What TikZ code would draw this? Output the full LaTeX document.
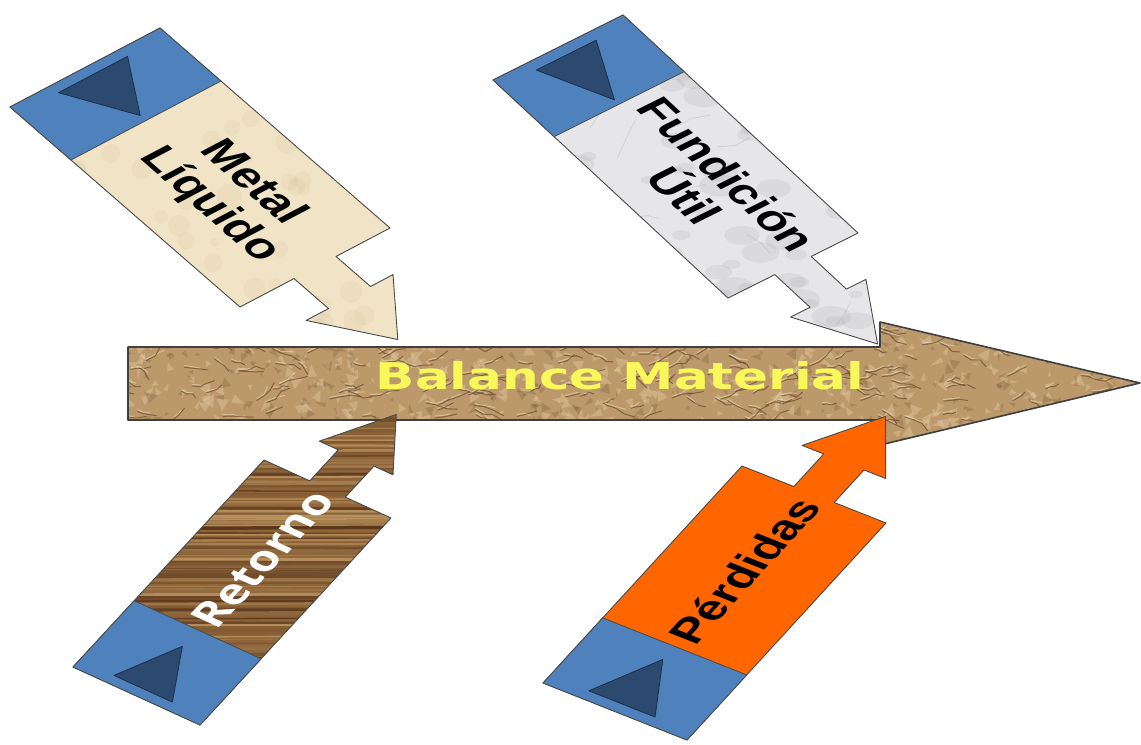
\documentclass[tikz,border=0pt]{standalone}
\usepackage{fontspec}
\setmainfont{Liberation Sans}
\newfontfamily\labelfont{Liberation Sans}
\newfontfamily\retfont{Open Sans}
\newfontfamily\titlefont{DejaVu Sans}

\definecolor{capblue}{HTML}{4F81BD}
\definecolor{capnavy}{HTML}{2C4A70}
\definecolor{navyedge}{HTML}{1C2F48}
\definecolor{edgegray}{HTML}{4A4A4A}
\definecolor{parchment}{HTML}{F0E3C6}
\definecolor{parchspot}{HTML}{D8C39A}
\definecolor{marble}{HTML}{E6E6E8}
\definecolor{marblevein}{HTML}{A8A8AE}
\definecolor{woodbase}{HTML}{8E6438}
\definecolor{wooddark}{HTML}{5A361A}
\definecolor{woodlight}{HTML}{B8905C}
\definecolor{lossorange}{HTML}{FF6600}
\definecolor{paperbase}{HTML}{BC996B}
\definecolor{creasedark}{HTML}{5A3C20}
\definecolor{paperhi}{HTML}{EBD8B2}
\definecolor{titleyellow}{HTML}{F8F85A}

% outline of a side arrow in its own frame: length along x, width along y
\def\sideshape{(0,0) -- (1,0) -- (1,0.36) -- (1.15,0.36) -- (1.15,0.21) -- (1.36,0.5) -- (1.15,0.79) -- (1.15,0.64) -- (1,0.64) -- (1,1) -- (0,1) -- cycle}
% main horizontal arrow
\def\mainshape{(128,-347) -- (880,-347) -- (880,-322) -- (1140,-383) -- (880,-445) -- (880,-420) -- (128,-420) -- cycle}

\tikzset{
  outline/.style={draw=edgegray, line width=0.9bp, line join=round},
  bluecap/.style={fill=capblue, draw=edgegray, line width=0.8bp},
  capmark/.style={fill=capnavy, draw=navyedge, line width=0.8bp, line join=round},
  crease/.style={draw=creasedark, line width=1bp, opacity=0.6, line join=round, line cap=round},
  creasehi/.style={draw=paperhi, line width=1bp, opacity=0.6, line join=round, line cap=round},
  metalframe/.style={cm={0.7546,-0.6562,0.8850,0.4661,(10bp,-107bp)}, x=304.8bp, y=169.5bp},
  fundframe/.style={cm={0.7332,-0.6802,0.8947,0.4473,(493bp,-80bp)}, x=320.5bp, y=145.3bp},
  retframe/.style={cm={0.6780,0.7348,-0.9097,0.4155,(200bp,-725bp)}, x=281.7bp, y=139.6bp},
  lossframe/.style={cm={0.6760,0.7371,-0.9297,0.3680,(687bp,-740bp)}, x=294.4bp, y=154.9bp},
  blacklabel/.style={font=\labelfont\bfseries\fontsize{45}{48}\selectfont, text=black, align=center, inner sep=0pt},
  whitelabel/.style={font=\retfont\bfseries\fontsize{44}{48}\selectfont, text=white, align=center, inner sep=0pt},
  titlelabel/.style={font=\titlefont\bfseries\fontsize{37}{40}\selectfont, text=titleyellow, inner sep=0pt},
}

% #1 frame, #2 cap fraction, #3 body fill, #4 texture, #5 name, #6 label style, #7 label
\newcommand{\sidearrow}[7]{%
  \begin{scope}
    \clip[#1] \sideshape;
    \fill[#3] (0,-760) rectangle (1141,0);
    #4
  \end{scope}
  \begin{scope}[#1]
    \draw[outline] \sideshape;
    \filldraw[bluecap] (0,0) rectangle (#2,1);
    \filldraw[capmark] (0.035,0.27) -- (0.035,0.73) -- (0.24,0.5) -- cycle;
    \node[transform shape,#6] (#5) at ({(1+#2)/2},0.5) {#7};
  \end{scope}}

\begin{document}
\begin{tikzpicture}[x=1bp,y=1bp]
\useasboundingbox (0,-745) rectangle (1141,0);

% crumpled paper arrow
\begin{scope}
  \clip \mainshape;
  \fill[paperbase] (100,-300) rectangle (1141,-460);
  \pgfmathsetseed{4}
  % light and dark facets
  \foreach \k in {1,...,520}{
    \pgfmathsetmacro{\px}{120+1030*rnd}
    \pgfmathsetmacro{\py}{-315-135*rnd}
    \pgfmathsetmacro{\pa}{360*rnd}
    \pgfmathsetmacro{\pl}{5+9*rnd}
    \fill[paperhi, opacity=0.32] (\px,\py) -- ++(\pa:\pl) -- ++({\pa+110+50*rnd}:\pl) -- cycle;
  }
  \foreach \k in {1,...,360}{
    \pgfmathsetmacro{\px}{120+1030*rnd}
    \pgfmathsetmacro{\py}{-315-135*rnd}
    \pgfmathsetmacro{\pa}{360*rnd}
    \pgfmathsetmacro{\pl}{4+8*rnd}
    \fill[creasedark, opacity=0.2] (\px,\py) -- ++(\pa:\pl) -- ++({\pa+110+50*rnd}:\pl) -- cycle;
  }
  % creases
  \foreach \k in {1,...,300}{
    \pgfmathsetmacro{\px}{120+1030*rnd}
    \pgfmathsetmacro{\py}{-315-135*rnd}
    \pgfmathsetmacro{\pa}{-35+70*rnd}
    \pgfmathsetmacro{\pl}{4+7*rnd}
    \draw[creasehi] (\px,\py+1.6) -- ++(\pa:\pl) -- ++({\pa-35+70*rnd}:\pl);
    \draw[crease] (\px,\py) -- ++(\pa:\pl) -- ++({\pa-35+70*rnd}:\pl) -- ++({\pa-35+70*rnd}:\pl);
  }
\end{scope}
\draw[outline, draw=edgegray!85!black, line width=1.6bp] \mainshape;
\node[titlelabel, anchor=base] (title) at (620,-389) {\scalebox{1.40}[1]{Balance Material}};

% inputs from above
\sidearrow{metalframe}{0.265}{fill=parchment}{%
  \pgfmathsetseed{21}
  \foreach \k in {1,...,90}{
    \pgfmathsetmacro{\px}{10+390*rnd}
    \pgfmathsetmacro{\py}{-28-320*rnd}
    \pgfmathsetmacro{\pr}{4+9*rnd}
    \fill[parchspot, opacity=0.18] (\px,\py) circle [radius=\pr];
  }}{metal}{blacklabel}{Metal\\Líquido}

\sidearrow{fundframe}{0.26}{fill=marble}{%
  \pgfmathsetseed{33}
  \foreach \k in {1,...,110}{
    \pgfmathsetmacro{\px}{490+400*rnd}
    \pgfmathsetmacro{\py}{-15-335*rnd}
    \pgfmathsetmacro{\pr}{4+10*rnd}
    \fill[marblevein, opacity=0.18] (\px,\py) ellipse [x radius={1.5*\pr}, y radius={0.8*\pr}];
  }
  \foreach \k in {1,...,40}{
    \pgfmathsetmacro{\px}{490+400*rnd}
    \pgfmathsetmacro{\py}{-15-335*rnd}
    \pgfmathsetmacro{\pa}{-60+120*rnd}
    \draw[marblevein, opacity=0.35, line width=0.7bp] (\px,\py) -- ++(\pa:{10+20*rnd}) -- ++({\pa+40*rnd-20}:{8+12*rnd});
  }}{fundicion}{blacklabel}{Fundición\\Útil}

% returns and losses from below
\sidearrow{retframe}{0.32}{fill=woodbase}{%
  \pgfmathsetseed{11}
  \foreach \yy in {400,403,...,745}{
    \pgfmathsetmacro{\mx}{int(100*rnd)}
    \pgfmathsetmacro{\dy}{-2+4*rnd}
    \pgfmathsetmacro{\lw}{1+2.6*rnd}
    \draw[draw=wooddark!\mx!woodlight, line width=\lw bp] (60,-\yy) -- (420,{-\yy+\dy});
  }}{retorno}{whitelabel}{Retorno}

\sidearrow{lossframe}{0.30}{fill=lossorange}{}{perdidas}{blacklabel}{Pérdidas}

\end{tikzpicture}
\end{document}
